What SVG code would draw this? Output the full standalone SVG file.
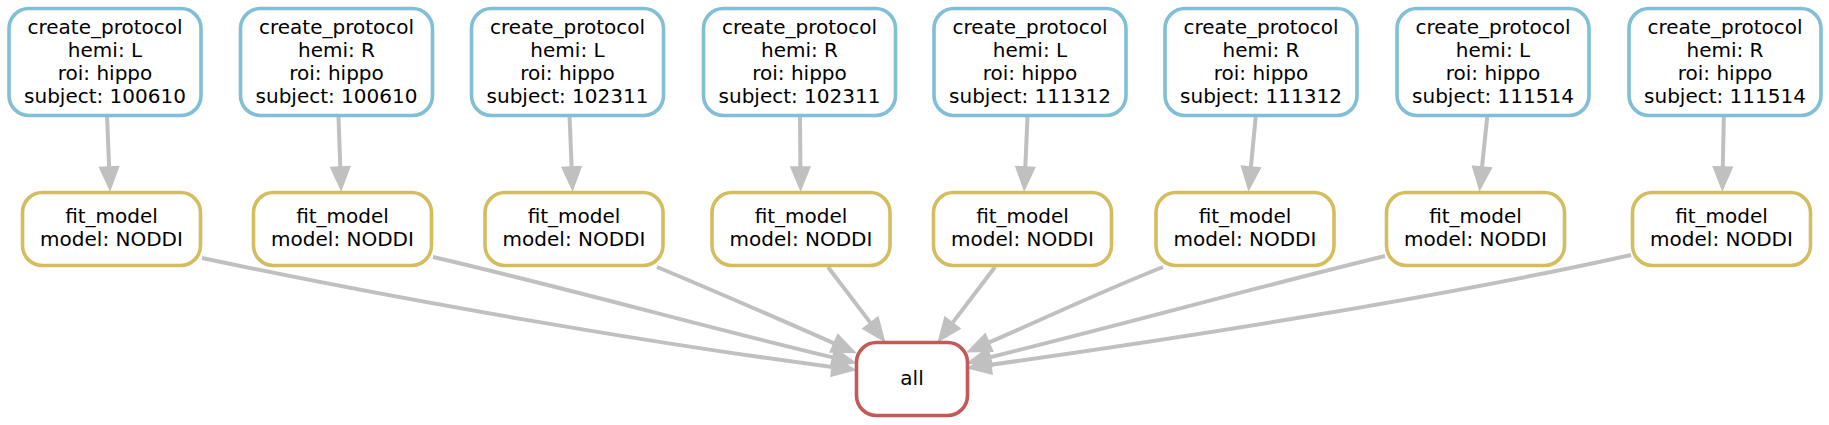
<svg xmlns="http://www.w3.org/2000/svg" width="1829" height="425" viewBox="0 0 1829 425">
<defs>
<style>
.bg{fill:#ffffff}
.node rect{fill:#ffffff;stroke-width:3.6}
.cp rect{stroke:#80bfd6}
.fm rect{stroke:#d4bd5e}
.al rect{stroke:#c45a58}
.node text{font-family:"DejaVu Sans","Noto Sans",sans-serif;font-size:20px;fill:#000000;text-anchor:middle}
.edge{fill:none;stroke:#c0c0c0;stroke-width:4;marker-end:url(#arr)}
</style>
<marker id="arr" markerUnits="userSpaceOnUse" viewBox="-2 -12 30 24" refX="0" refY="0" markerWidth="30" markerHeight="24" orient="auto">
<path d="M0,-9.5 L23,0 L0,9.5 Z" fill="#c0c0c0" stroke="#c0c0c0" stroke-width="1.5"/>
</marker>
</defs>
<rect class="bg" x="0" y="0" width="1829" height="425"/>
<g id="connectors">
<path class="edge" d="M107.1,117 L109.1,167"/>
<path class="edge" d="M338.5,117 L340.3,167"/>
<path class="edge" d="M569.6,117 L571.6,167"/>
<path class="edge" d="M800,117 L800.4,167"/>
<path class="edge" d="M1027.5,117 L1025.3,167"/>
<path class="edge" d="M1255.7,117 L1250.9,167"/>
<path class="edge" d="M1487.2,117 L1482,167"/>
<path class="edge" d="M1723.8,117 L1722.8,167"/>
<path class="edge" d="M202,258 C400,300 655,344 832.2,366.9"/>
<path class="edge" d="M433,257 C569,288.5 696.6,324.8 832.7,357.4"/>
<path class="edge" d="M657,267 C705,287 780,319.5 834,343.3"/>
<path class="edge" d="M828,267 L870.5,322.9"/>
<path class="edge" d="M995,267 L952.5,322.9"/>
<path class="edge" d="M1163,267 C1100,292 1050,316 989,342.45"/>
<path class="edge" d="M1385,256 C1249,289.3 1126.2,323.6 990.3,357.2"/>
<path class="edge" d="M1631,255 C1433,299 1168,340 990.8,364.7"/>
</g>
<g id="cp1" class="node cp"><rect x="9" y="8.5" width="192" height="107" rx="20"/><text x="105" y="33.5">create_protocol</text><text x="105" y="56.5">hemi: L</text><text x="105" y="79.5">roi: hippo</text><text x="105" y="102.5">subject: 100610</text></g>
<g id="cp2" class="node cp"><rect x="240.5" y="8.5" width="192" height="107" rx="20"/><text x="336.5" y="33.5">create_protocol</text><text x="336.5" y="56.5">hemi: R</text><text x="336.5" y="79.5">roi: hippo</text><text x="336.5" y="102.5">subject: 100610</text></g>
<g id="cp3" class="node cp"><rect x="471.5" y="8.5" width="192" height="107" rx="20"/><text x="567.5" y="33.5">create_protocol</text><text x="567.5" y="56.5">hemi: L</text><text x="567.5" y="79.5">roi: hippo</text><text x="567.5" y="102.5">subject: 102311</text></g>
<g id="cp4" class="node cp"><rect x="703.5" y="8.5" width="192" height="107" rx="20"/><text x="799.5" y="33.5">create_protocol</text><text x="799.5" y="56.5">hemi: R</text><text x="799.5" y="79.5">roi: hippo</text><text x="799.5" y="102.5">subject: 102311</text></g>
<g id="cp5" class="node cp"><rect x="934" y="8.5" width="192" height="107" rx="20"/><text x="1030" y="33.5">create_protocol</text><text x="1030" y="56.5">hemi: L</text><text x="1030" y="79.5">roi: hippo</text><text x="1030" y="102.5">subject: 111312</text></g>
<g id="cp6" class="node cp"><rect x="1165" y="8.5" width="192" height="107" rx="20"/><text x="1261" y="33.5">create_protocol</text><text x="1261" y="56.5">hemi: R</text><text x="1261" y="79.5">roi: hippo</text><text x="1261" y="102.5">subject: 111312</text></g>
<g id="cp7" class="node cp"><rect x="1397" y="8.5" width="192" height="107" rx="20"/><text x="1493" y="33.5">create_protocol</text><text x="1493" y="56.5">hemi: L</text><text x="1493" y="79.5">roi: hippo</text><text x="1493" y="102.5">subject: 111514</text></g>
<g id="cp8" class="node cp"><rect x="1629" y="8.5" width="192" height="107" rx="20"/><text x="1725" y="33.5">create_protocol</text><text x="1725" y="56.5">hemi: R</text><text x="1725" y="79.5">roi: hippo</text><text x="1725" y="102.5">subject: 111514</text></g>
<g id="fm1" class="node fm"><rect x="22.5" y="192.5" width="178" height="73" rx="20"/><text x="111.5" y="222.5">fit_model</text><text x="111.5" y="245.5">model: NODDI</text></g>
<g id="fm2" class="node fm"><rect x="253.5" y="192.5" width="178" height="73" rx="20"/><text x="342.5" y="222.5">fit_model</text><text x="342.5" y="245.5">model: NODDI</text></g>
<g id="fm3" class="node fm"><rect x="485" y="192.5" width="178" height="73" rx="20"/><text x="574" y="222.5">fit_model</text><text x="574" y="245.5">model: NODDI</text></g>
<g id="fm4" class="node fm"><rect x="712" y="192.5" width="178" height="73" rx="20"/><text x="801" y="222.5">fit_model</text><text x="801" y="245.5">model: NODDI</text></g>
<g id="fm5" class="node fm"><rect x="933.5" y="192.5" width="178" height="73" rx="20"/><text x="1022.5" y="222.5">fit_model</text><text x="1022.5" y="245.5">model: NODDI</text></g>
<g id="fm6" class="node fm"><rect x="1156" y="192.5" width="178" height="73" rx="20"/><text x="1245" y="222.5">fit_model</text><text x="1245" y="245.5">model: NODDI</text></g>
<g id="fm7" class="node fm"><rect x="1386.5" y="192.5" width="178" height="73" rx="20"/><text x="1475.5" y="222.5">fit_model</text><text x="1475.5" y="245.5">model: NODDI</text></g>
<g id="fm8" class="node fm"><rect x="1632.5" y="192.5" width="178" height="73" rx="20"/><text x="1721.5" y="222.5">fit_model</text><text x="1721.5" y="245.5">model: NODDI</text></g>
<g id="all" class="node al"><rect x="856.5" y="342.5" width="111" height="73" rx="20"/><text x="912" y="385">all</text></g>
</svg>
